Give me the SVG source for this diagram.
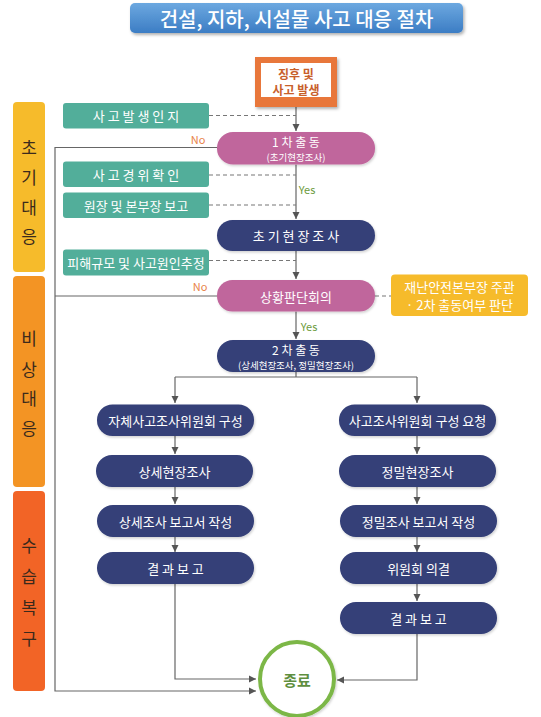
<svg xmlns="http://www.w3.org/2000/svg" width="541" height="717" viewBox="0 0 541 717">
<defs>
<linearGradient id="tg" x1="0" y1="0" x2="0" y2="1"><stop offset="0" stop-color="#6CA8E0"/><stop offset="1" stop-color="#3C7DC4"/></linearGradient>
<filter id="sh" x="-10%" y="-20%" width="125%" height="150%"><feDropShadow dx="1.5" dy="2" stdDeviation="1.5" flood-color="#000" flood-opacity="0.3"/></filter>
<filter id="sh2" x="-10%" y="-20%" width="125%" height="150%"><feDropShadow dx="1" dy="1.5" stdDeviation="1" flood-color="#000" flood-opacity="0.18"/></filter>
<marker id="ah" markerWidth="8" markerHeight="8" refX="7" refY="4" orient="auto" markerUnits="userSpaceOnUse"><path d="M0,0.5 L7,4 L0,7.5 z" fill="#555"/></marker>
</defs>
<style>
text{font-family:"Noto Sans CJK KR","Noto Sans",sans-serif;text-anchor:middle;dominant-baseline:central}
.w{fill:#fff;font-size:13px}
.w2{fill:#fff;font-size:12px}
.ws{fill:#fff;font-size:9.5px}
.ph{fill:#3b2a1c;font-size:17px}
.teal{fill:#52AE9A}
.pink{fill:#C0669C}
.navy{fill:#343F78}
.ln{fill:none;stroke:#666;stroke-width:1.2}
.ar{fill:none;stroke:#666;stroke-width:1.2;marker-end:url(#ah)}
.ds{fill:none;stroke:#777;stroke-width:1.1;stroke-dasharray:4 3}
.no{fill:#E8834A;font-size:11px}
.yes{fill:#6B9A3A;font-size:11px}
</style>

<g id="title">
<rect x="130" y="3" width="333" height="30" rx="5" fill="url(#tg)" filter="url(#sh)"/>
<text x="296.5" y="18" style="fill:#fff;font-size:20px;font-weight:500">건설, 지하, 시설물 사고 대응 절차</text>
</g>

<g id="phase1">
<rect x="13" y="102" width="32" height="170" rx="4" fill="#F6BB2B"/>
<text class="ph" x="29" y="146">초</text>
<text class="ph" x="29" y="176">기</text>
<text class="ph" x="29" y="206">대</text>
<text class="ph" x="29" y="235">응</text>
</g>
<g id="phase2">
<rect x="13" y="276" width="32" height="211" rx="4" fill="#F39424"/>
<text class="ph" x="29" y="337">비</text>
<text class="ph" x="29" y="368">상</text>
<text class="ph" x="29" y="397">대</text>
<text class="ph" x="29" y="427">응</text>
</g>
<g id="phase3">
<rect x="13" y="491" width="32" height="200" rx="4" fill="#F26426"/>
<text class="ph" x="29" y="544">수</text>
<text class="ph" x="29" y="575">습</text>
<text class="ph" x="29" y="606">복</text>
<text class="ph" x="29" y="637">구</text>
</g>

<g id="connectors">
<line class="ar" x1="296" y1="107" x2="296" y2="131"/>
<line class="ds" x1="209" y1="115.5" x2="296" y2="115.5"/>
<line class="ar" x1="296" y1="164.5" x2="296" y2="219"/>
<line class="ds" x1="209" y1="175" x2="296" y2="175"/>
<line class="ds" x1="209" y1="205" x2="296" y2="205"/>
<line class="ar" x1="296" y1="251" x2="296" y2="279"/>
<line class="ds" x1="209" y1="260.5" x2="296" y2="260.5"/>
<polyline class="ar" points="217,147.5 55,147.5 55,691 256,691"/>
<line class="ln" x1="217" y1="296" x2="55" y2="296"/>
<line class="ds" x1="375" y1="296" x2="391" y2="296"/>
<line class="ar" x1="296" y1="311.5" x2="296" y2="339"/>
<polyline class="ln" points="296,372 296,377"/>
<polyline class="ln" points="175,377 417,377"/>
<line class="ar" x1="175" y1="377" x2="175" y2="403"/>
<line class="ar" x1="417" y1="377" x2="417" y2="403"/>
<line class="ar" x1="175" y1="436" x2="175" y2="454"/>
<line class="ar" x1="175" y1="487" x2="175" y2="504"/>
<line class="ar" x1="175" y1="537" x2="175" y2="552"/>
<polyline class="ar" points="175,584 175,679 256,679"/>
<line class="ar" x1="417" y1="436" x2="417" y2="454"/>
<line class="ar" x1="417" y1="487" x2="417" y2="504"/>
<line class="ar" x1="417" y1="537" x2="417" y2="552"/>
<line class="ar" x1="417" y1="584" x2="417" y2="601"/>
<polyline class="ar" points="417,634 417,680 337,680"/>
<text class="no" x="198" y="139">No</text>
<text class="no" x="200" y="286">No</text>
<text class="yes" x="307" y="189">Yes</text>
<text class="yes" x="309" y="326">Yes</text>
</g>

<g id="n-start">
<rect x="255" y="57" width="82" height="50" fill="#E8773A" filter="url(#sh)"/>
<rect x="261" y="63" width="70" height="34" fill="#fff"/>
<text x="296" y="73" style="fill:#C8602A;font-size:12px;font-weight:bold">징후 및</text>
<text x="296" y="89" style="fill:#C8602A;font-size:12px;font-weight:bold">사고 발생</text>
</g>

<g id="n-t1"><rect class="teal" x="63" y="103" width="146" height="25.5" rx="3"/><text class="w" x="136" y="115.5">사 고 발 생 인 지</text></g>
<g id="n-t2"><rect class="teal" x="63" y="161.5" width="146" height="25.5" rx="3"/><text class="w" x="136" y="174">사 고 경 위 확 인</text></g>
<g id="n-t3"><rect class="teal" x="63" y="192.5" width="146" height="25.5" rx="3"/><text class="w" x="136" y="205">원장 및 본부장 보고</text></g>
<g id="n-t4"><rect class="teal" x="63" y="249.5" width="146" height="26" rx="3"/><text class="w" x="136" y="262">피해규모 및 사고원인추정</text></g>

<g id="n-first"><rect class="pink" x="217" y="132" width="158" height="32.5" rx="16" filter="url(#sh2)"/><text class="w2" x="296" y="141">1 차 출 동</text><text class="ws" x="296" y="156.5">(초기현장조사)</text></g>
<g id="n-initsurvey"><rect class="navy" x="217" y="220" width="158" height="31" rx="15.5" filter="url(#sh2)"/><text class="w" x="296" y="235.5">초 기 현 장 조 사</text></g>
<g id="n-judge"><rect class="pink" x="217" y="280" width="158" height="31.5" rx="15.5" filter="url(#sh2)"/><text class="w" x="296" y="296">상황판단회의</text></g>
<g id="n-note"><rect x="391" y="274.5" width="137" height="41.5" rx="4" fill="#F6BB2B"/><text class="w" x="459.5" y="286">재난안전본부장 주관</text><text class="w" x="459.5" y="304">· 2차 출동여부 판단</text></g>
<g id="n-second"><rect class="navy" x="217" y="340" width="158" height="32" rx="16" filter="url(#sh2)"/><text class="w2" x="296" y="349">2 차 출 동</text><text class="ws" x="296" y="364.5">(상세현장조사, 정밀현장조사)</text></g>

<g id="n-l1"><rect class="navy" x="97" y="404.5" width="157" height="31.5" rx="15.5" filter="url(#sh2)"/><text class="w" x="175.5" y="420">자체사고조사위원회 구성</text></g>
<g id="n-l2"><rect class="navy" x="96" y="455" width="157" height="32" rx="16" filter="url(#sh2)"/><text class="w" x="174.5" y="471">상세현장조사</text></g>
<g id="n-l3"><rect class="navy" x="97" y="505" width="157" height="32" rx="16" filter="url(#sh2)"/><text class="w" x="175.5" y="521">상세조사 보고서 작성</text></g>
<g id="n-l4"><rect class="navy" x="97" y="552" width="157" height="32" rx="16" filter="url(#sh2)"/><text class="w" x="175.5" y="568">결 과 보 고</text></g>

<g id="n-r1"><rect class="navy" x="339" y="404.5" width="157" height="31.5" rx="15.5" filter="url(#sh2)"/><text class="w" x="417.5" y="420">사고조사위원회 구성 요청</text></g>
<g id="n-r2"><rect class="navy" x="339" y="455" width="157" height="32" rx="16" filter="url(#sh2)"/><text class="w" x="417.5" y="471">정밀현장조사</text></g>
<g id="n-r3"><rect class="navy" x="340" y="505" width="157" height="32" rx="16" filter="url(#sh2)"/><text class="w" x="418.5" y="521">정밀조사 보고서 작성</text></g>
<g id="n-r4"><rect class="navy" x="340" y="552" width="157" height="32" rx="16" filter="url(#sh2)"/><text class="w" x="418.5" y="568">위원회 의결</text></g>
<g id="n-r5"><rect class="navy" x="340" y="602" width="157" height="32" rx="16" filter="url(#sh2)"/><text class="w" x="418.5" y="618">결 과 보 고</text></g>

<g id="n-end">
<circle cx="297" cy="679" r="37" fill="#fff" stroke="#7CB746" stroke-width="4" filter="url(#sh2)"/>
<text x="297" y="679" style="fill:#5F8F3F;font-size:15px;font-weight:bold">종료</text>
</g>
</svg>
